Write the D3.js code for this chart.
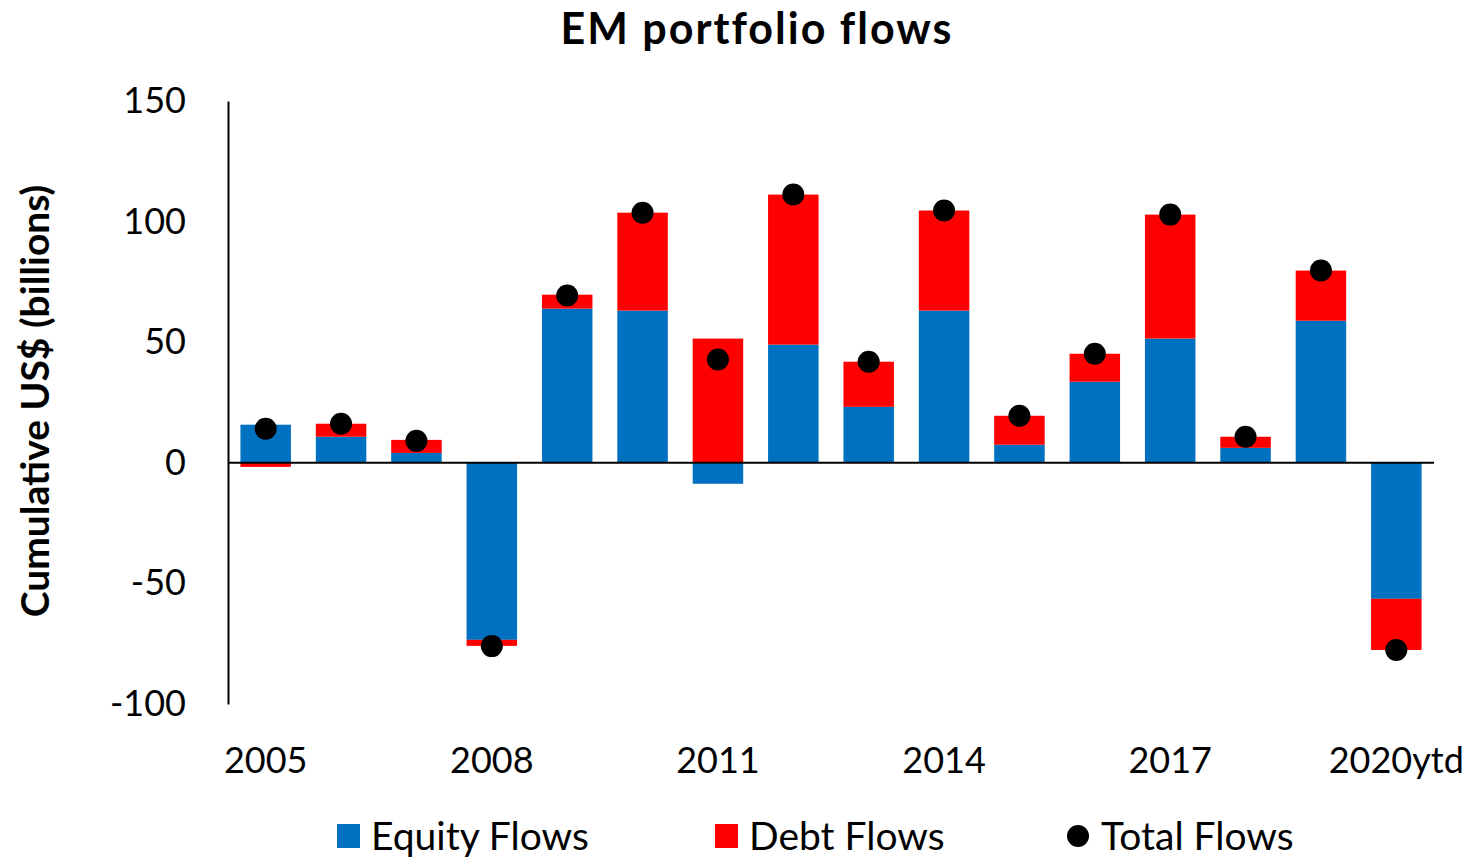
<!DOCTYPE html>
<html>
<head>
<meta charset="utf-8">
<script src="https://cdn.jsdelivr.net/npm/d3@7"></script>
<style>
  body { margin: 0; background: #fff; }
  text { font-family: Lato, "Open Sans", sans-serif; fill: #000; }
</style>
</head>
<body>
<div class="chart"></div>
<script>
// EM portfolio flows: stacked equity / debt bars with total dots

var years = ["2005", "2006", "2007", "2008", "2009", "2010", "2011", "2012",
             "2013", "2014", "2015", "2016", "2017", "2018", "2019", "2020ytd"];
var equityFlows = [15.8, 10.8, 4.1, -73.4, 63.9, 63.1, -8.7, 49.0,
                   23.2, 63.1, 7.5, 33.6, 51.5, 6.2, 58.9, -56.4];
var debtFlows = [-1.7, 5.4, 5.4, -2.5, 5.8, 40.6, 51.5, 62.2,
                 18.7, 41.5, 12.0, 11.6, 51.4, 4.6, 20.8, -21.2];
var totalFlows = [14.1, 16.2, 9.1, -76.0, 69.4, 103.7, 42.8, 111.2,
                  41.9, 104.6, 19.5, 45.2, 102.9, 10.8, 79.7, -77.6];
var yTicks = [150, 100, 50, 0, -50, -100];
var shownYears = ["2005", "2008", "2011", "2014", "2017", "2020ytd"];

var svgWidth = 1475;
var svgHeight = 859;
var margin = { top: 101, right: 41, bottom: 155, left: 228 };
var width = svgWidth - margin.left - margin.right;
var height = svgHeight - margin.top - margin.bottom;

var blue = "#0070C0";
var red = "#FF0000";

var svg = d3.select(".chart")
  .append("svg")
  .attr("width", svgWidth)
  .attr("height", svgHeight);

var chart = svg.append("g")
  .attr("transform", "translate(" + margin.left + "," + margin.top + ")");

var rows = years.map(function(y, i) {
  return { year: y, equity: equityFlows[i], debt: debtFlows[i], total: totalFlows[i] };
});

var stacked = d3.stack()
  .keys(["equity", "debt"])
  .offset(d3.stackOffsetDiverging)(rows);

var x = d3.scaleBand()
  .domain(years)
  .range([0, width])
  .paddingInner(0.33)
  .paddingOuter(0.165);

var y = d3.scaleLinear()
  .domain([-100, 150])
  .range([height, 0]);

// bars
chart.selectAll("g.series")
  .data(stacked)
  .enter().append("g")
    .attr("class", "series")
    .attr("fill", function(d) { return d.key === "equity" ? blue : red; })
  .selectAll("rect")
  .data(function(d) { return d; })
  .enter().append("rect")
    .attr("x", function(d) { return x(d.data.year); })
    .attr("width", x.bandwidth())
    .attr("y", function(d) { return y(Math.max(d[0], d[1])); })
    .attr("height", function(d) { return Math.abs(y(d[0]) - y(d[1])); });

// y axis line (no ticks), plain hyphen for negatives
var leftAxis = d3.axisLeft(y)
  .tickValues(yTicks)
  .tickSize(0)
  .tickPadding(42)
  .tickFormat(function(d) { return String(d); });
var yAxisG = chart.append("g").call(leftAxis);
yAxisG.select(".domain").attr("stroke", "#000").attr("stroke-width", 2);
yAxisG.selectAll("text")
  .attr("font-size", 36)
  .style("font-family", "Lato, sans-serif");

// zero line
chart.append("line")
  .attr("x1", 0)
  .attr("x2", width)
  .attr("y1", y(0))
  .attr("y2", y(0))
  .attr("stroke", "#000")
  .attr("stroke-width", 2);

// x labels
var bottomAxis = d3.axisBottom(x).tickValues(shownYears).tickSize(0).tickPadding(0);
var xAxisG = chart.append("g")
  .attr("transform", "translate(0," + (height + 44) + ")")
  .call(bottomAxis);
xAxisG.select(".domain").remove();
xAxisG.selectAll("text")
  .attr("font-size", 36)
  .attr("dy", "0.7em")
  .style("font-family", "Lato, sans-serif");

// total dots
chart.selectAll("circle.total")
  .data(rows)
  .enter().append("circle")
    .attr("class", "total")
    .attr("cx", function(d) { return x(d.year) + x.bandwidth() / 2; })
    .attr("cy", function(d) { return y(d.total); })
    .attr("r", 11)
    .attr("fill", "#000");

// title
svg.append("text")
  .attr("x", 757)
  .attr("y", 44)
  .attr("text-anchor", "middle")
  .attr("font-size", 43)
  .attr("letter-spacing", 2)
  .attr("font-weight", "bold")
  .text("EM portfolio flows");

// y axis title
svg.append("text")
  .attr("transform", "translate(49," + 401 + ") rotate(-90)")
  .attr("text-anchor", "middle")
  .attr("font-size", 39)
  .attr("font-weight", "bold")
  .text("Cumulative US$ (billions)");

// legend
var legendItems = [
  { label: "Equity Flows", color: blue, shape: "rect", x: 337 },
  { label: "Debt Flows", color: red, shape: "rect", x: 715 },
  { label: "Total Flows", color: "#000", shape: "circle", x: 1067 }
];
var legend = svg.append("g").attr("transform", "translate(0,836)");
legendItems.forEach(function(item) {
  var g = legend.append("g").attr("transform", "translate(" + item.x + ",0)");
  if (item.shape === "rect") {
    g.append("rect").attr("x", 0).attr("y", -12).attr("width", 23).attr("height", 24).attr("fill", item.color);
  } else {
    g.append("circle").attr("cx", 11).attr("cy", 0).attr("r", 11).attr("fill", item.color);
  }
  g.append("text")
    .attr("x", 34)
    .attr("y", 0)
    .attr("dy", "0.35em")
    .attr("font-size", 39)
    .text(item.label);
});
</script>
</body>
</html>
